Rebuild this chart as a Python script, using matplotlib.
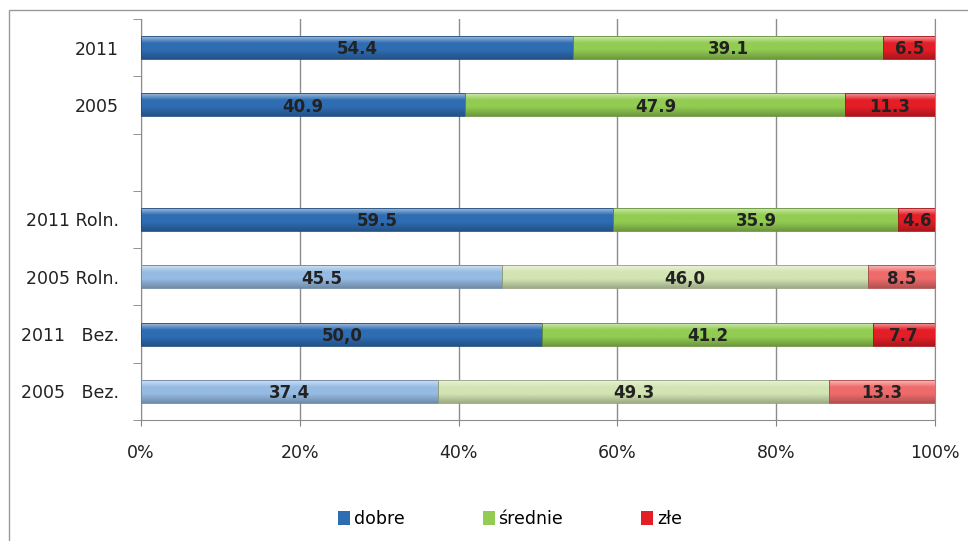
import numpy as np
import matplotlib.pyplot as plt
from matplotlib.patches import Rectangle, Patch
from matplotlib.colors import to_rgb

# rows from top to bottom, '' is the empty gap row
categories = ['2011', '2005', '', '2011 Roln.', '2005 Roln.', '2011   Bez.', '2005   Bez.']
dobre = [54.4, 40.9, 0, 59.5, 45.5, 50.0, 37.4]
srednie = [39.1, 47.9, 0, 35.9, 46.0, 41.2, 49.3]
zle = [6.5, 11.3, 0, 4.6, 8.5, 7.7, 13.3]
dobre_txt = ['54.4', '40.9', '', '59.5', '45.5', '50,0', '37.4']
srednie_txt = ['39.1', '47.9', '', '35.9', '46,0', '41.2', '49.3']
zle_txt = ['6.5', '11.3', '', '4.6', '8.5', '7.7', '13.3']
light_rows = [False, False, False, False, True, False, True]
series_names = ['dobre', 'średnie', 'złe']

dark_cols = ['#2f6db3', '#92cc52', '#e41e26']
light_cols = ['#96bbe3', '#d3e4b3', '#ef6b6b']


def gradient(base):
    # vertical bevel: light strip on top, slightly darker bottom edge
    r = np.array(to_rgb(base))
    t = np.linspace(0, 1, 60)
    rows = []
    for v in t:
        if v < 0.3:
            k = 0.55 * (1 - v / 0.3)
            c = r + (1 - r) * k
        else:
            k = 0.25 * max(0, (v - 0.6) / 0.4)
            c = r * (1 - k)
        rows.append(np.append(c, 1))
    return np.array(rows).reshape(60, 1, 4)


plt.rcParams['font.family'] = 'DejaVu Sans'
fig = plt.figure(figsize=(9.68, 5.41), dpi=100)
ax = fig.add_axes([141 / 968, 1 - 420 / 541, (935 - 141) / 968, (420 - 19) / 541])

y = np.arange(len(categories))
vals = np.array([dobre, srednie, zle], dtype=float)
tot = vals.sum(axis=0)
tot[tot == 0] = 1
pct = vals / tot * 100
texts = [dobre_txt, srednie_txt, zle_txt]

left = np.zeros(len(categories))
for s in range(3):
    bars = ax.barh(y, pct[s], left=left, height=0.4, color='none', edgecolor='none')
    for i, p in enumerate(bars.patches):
        if pct[s][i] == 0:
            continue
        col = light_cols[s] if light_rows[i] else dark_cols[s]
        x0, y0 = p.get_x(), p.get_y()
        w, h = p.get_width(), p.get_height()
        im = ax.imshow(gradient(col), extent=(x0, x0 + w, y0 + h, y0),
                       origin='upper', aspect='auto', zorder=3)
        im.set_clip_path(p)
        p.set_edgecolor(tuple(np.array(to_rgb(col)) * 0.7))
        p.set_linewidth(0.6)
        p.set_zorder(4)
        ax.text(x0 + w / 2, y[i] + 0.03, texts[s][i], ha='center', va='center',
                fontsize=12, fontweight='bold', color='#222222', zorder=5)
    left = left + pct[s]

ax.set_xlim(0, 100)
ax.set_ylim(len(categories) - 0.5, -0.5)
ax.set_xticks([0, 20, 40, 60, 80, 100])
ax.set_xticklabels(['0%', '20%', '40%', '60%', '80%', '100%'], fontsize=12.5, color='#222222')
ax.set_yticks(y)
ax.set_yticklabels(categories, fontsize=12.5, color='#222222')
ax.set_yticks(np.arange(-0.5, len(categories)), minor=True)
ax.tick_params(axis='y', which='major', length=0, pad=16)
ax.tick_params(axis='y', which='minor', length=6, color='#808080', direction='out')
ax.tick_params(axis='x', length=4, color='#808080', direction='out', pad=13)
ax.xaxis.grid(True, color='#8c8c8c', linewidth=1)
ax.set_axisbelow(True)
ax.spines['top'].set_visible(False)
for side in ['left', 'bottom', 'right']:
    ax.spines[side].set_color('#8c8c8c')

# outer chart border
fig.patches.append(Rectangle((9 / 968, -0.05), 1.1, 1.05 - 10 / 541, transform=fig.transFigure,
                             fill=False, edgecolor='#9a9a9a', linewidth=1))

handles = [Patch(facecolor=c, edgecolor='none') for c in dark_cols]
fig.legend(handles, series_names, loc='center', bbox_to_anchor=(510 / 968, 1 - 519 / 541),
           ncol=3, frameon=False, fontsize=12.5, handlelength=0.7, handleheight=0.8,
           handletextpad=0.2, columnspacing=4.5)

fig.savefig('out.png', dpi=100)
